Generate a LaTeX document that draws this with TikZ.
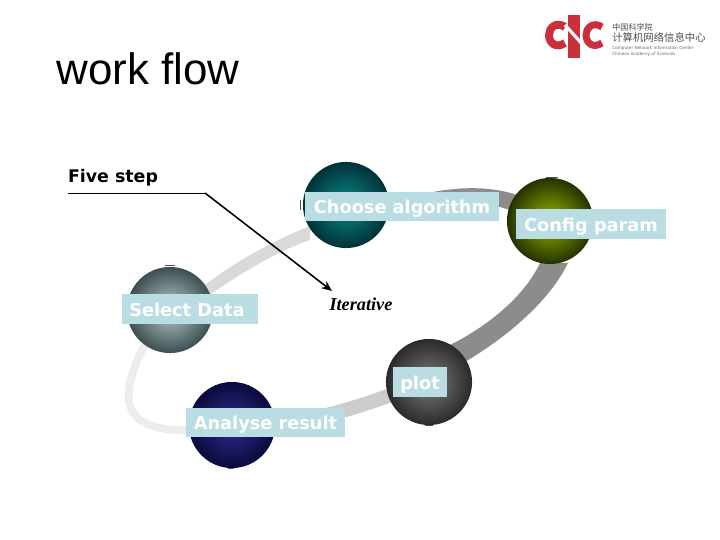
\documentclass[tikz,border=0pt]{standalone}
\usepackage{fontspec}
\usetikzlibrary{arrows.meta}
\setmainfont{DejaVu Sans}
\newfontfamily\serifbi{Liberation Serif}
\newfontfamily\titlefont{Liberation Sans}
\newfontfamily\cjk{Noto Sans CJK SC}
\definecolor{boxblue}{HTML}{B9DDE3}
\definecolor{logored}{HTML}{C9303C}
\tikzset{
  sphere/.style={circle,minimum size=49pt,inner sep=0pt,shade},
  labelbox/.style={fill=boxblue,text=white,inner sep=0pt,minimum height=16.6pt,text height=10.6pt,text depth=2.6pt,font=\bfseries\fontsize{10.1}{12}\selectfont},
  band/.style={line cap=butt},
  tick/.style={black!70,line width=0.5pt},
}
\begin{document}
\begin{tikzpicture}[x=0.02cm,y=-0.02cm]

   \useasboundingbox (0,0) rectangle (720,540);

   \node (title) at (148,69) [font=\titlefont\fontsize{25}{30}\selectfont] {work flow};
   \node (five-step) at (113,178) [font=\bfseries\fontsize{9.9}{12}\selectfont] {Five step};
   \node (iterative) at (361,304) [font=\serifbi\bfseries\itshape\fontsize{10.4}{12}\selectfont] {Iterative};

   \coordinate (line-start) at (68,193);
   \coordinate (line-bend) at (205,193);
   \coordinate (line-end) at (332,291);

   \coordinate (Choose) at (346,205);
   \coordinate (Config) at (550,221);
   \coordinate (Select) at (170,310);
   \coordinate (Plot) at (429,382);
   \coordinate (Analyse) at (232,425);

   % ring
   \fill [color=black!15] (205,285) .. controls (235,262) and (270,242) .. (310,226) -- (310,240) .. controls (275,252) and (240,274) .. (208,296) -- cycle;
   \fill [color=black!45] (433,192) .. controls (465,186) and (500,186) .. (530,200) -- (525,215) .. controls (495,205) and (465,196) .. (433,192) -- cycle;
   \fill [color=black!45] (540,263) .. controls (525,295) and (490,325) .. (450,345) -- (465,362) .. controls (510,335) and (550,300) .. (568,263) -- cycle;
   \draw [band,line width=8pt,color=black!20] (Plot) .. controls (385,395) and (320,428) .. (Analyse);
   \draw [band,line width=4.5pt,color=black!7] (Analyse) .. controls (150,440) and (125,420) .. (129,390) .. controls (132,365) and (145,340) .. (Select);

   % spheres
   \node (Choose-ball) at (Choose) [sphere,inner color={rgb,255:red,10;green,140;blue,140},outer color={rgb,255:red,0;green,50;blue,55}] {};
   \node (Config-ball) at (Config) [sphere,inner color={rgb,255:red,150;green,185;blue,0},outer color={rgb,255:red,35;green,50;blue,0}] {};
   \node (Select-ball) at (Select) [sphere,inner color={rgb,255:red,185;green,205;blue,205},outer color={rgb,255:red,60;green,78;blue,80}] {};
   \node (Plot-ball) at (Plot) [sphere,inner color={rgb,255:red,125;green,125;blue,125},outer color={rgb,255:red,42;green,42;blue,42}] {};
   \node (Analyse-ball) at (Analyse) [sphere,inner color={rgb,255:red,45;green,45;blue,145},outer color={rgb,255:red,10;green,10;blue,60}] {};

   % small marks
   \draw [tick] (546,177.5) -- (558,177.5);
   \draw [tick] (165,265.5) -- (175,265.5);
   \draw [tick] (425,425.5) -- (433,425.5);
   \draw [tick] (228,468) -- (234,468);
   \draw [tick] (300.5,200) -- (300.5,210);

   % labels
   \node (Choose-label) at (402,206.5) [labelbox,minimum width=110pt] {Choose algorithm};
   \node (Config-label) at (591,224) [labelbox,minimum width=85pt] {Config param};
   \node (Select-label) at (190,309) [labelbox,minimum width=77pt] {Select Data\kern3.5pt};
   \node (Plot-label) at (420,382) [labelbox,minimum width=30.6pt] {plot};
   \node (Analyse-label) at (265.5,422.5) [labelbox,minimum width=90pt] {Analyse result};

   % arrow
   \draw [line width=0.5pt] (line-start) -- (line-bend);
   \draw [-{Stealth[length=6pt,width=5pt]},line width=0.9pt] (line-bend) -- (line-end);

   % logo
   \draw [color=logored,line width=4.5pt] (565,27) .. controls (556,21) and (549,28) .. (549,35) .. controls (549,43) and (556,49) .. (565,43);
   \draw [color=logored,line width=4pt] (602,27) .. controls (593,21) and (586,28) .. (586,35) .. controls (586,43) and (593,49) .. (602,43);
   \fill [color=logored] (568,15) -- (580,15) -- (580,58) -- (568,58) -- cycle;
   \draw [color=white,line width=1.8pt] (565,25) -- (583,45);
   \node (logo-cn) at (612,27) [anchor=west,inner sep=0pt,color=black!70,font=\cjk\fontsize{4.6}{5}\selectfont] {中国科学院};
   \node (logo-cnic) at (612,38) [anchor=west,inner sep=0pt,color=black!70,font=\cjk\fontsize{5.9}{6}\selectfont] {计算机网络信息中心};
   \node (logo-en1) at (612,48.5) [anchor=west,inner sep=0pt,color=black!60,font=\fontsize{2.4}{3}\selectfont] {Computer Network Information Center};
   \node (logo-en2) at (612,54.5) [anchor=west,inner sep=0pt,color=black!60,font=\fontsize{2.4}{3}\selectfont] {Chinese Academy of Sciences};

\end{tikzpicture}
\end{document}
